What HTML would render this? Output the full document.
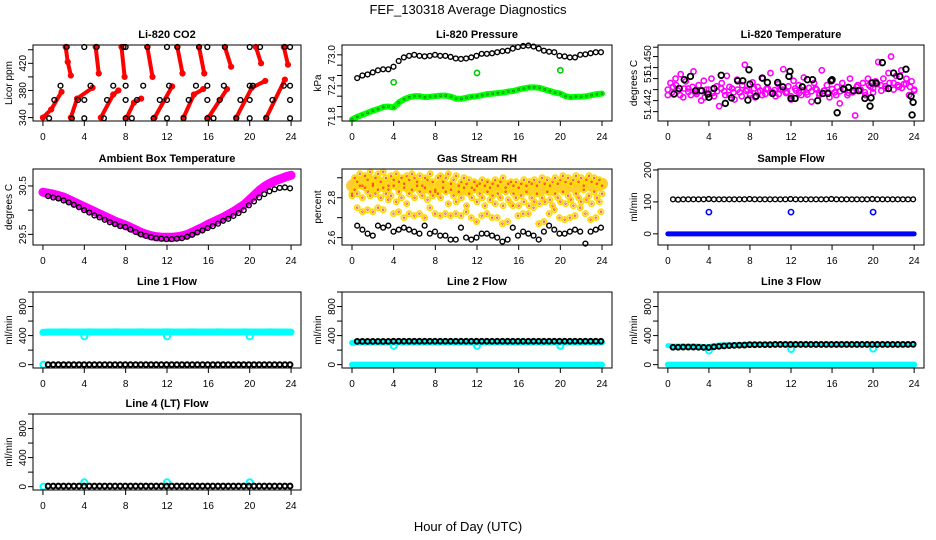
<!DOCTYPE html>
<html><head><meta charset="utf-8"><style>
html,body{margin:0;padding:0;background:#fff;}
svg{display:block;font-family:"Liberation Sans",Arial,sans-serif;}
</style></head><body>
<svg id="chart" width="936" height="540" viewBox="0 0 936 540">
<rect width="936" height="540" fill="#fff"/>
<text x="468" y="14" text-anchor="middle" font-size="13">FEF_130318  Average Diagnostics</text>
<text x="468" y="531" text-anchor="middle" font-size="13">Hour of Day (UTC)</text>
</svg>
<script>
// ---------- data ----------
const xTicks = [0,4,8,12,16,20,24];
const outlierHours = [4,12,20];

// CO2
const co2BlackX = [0.6,2.8,4.0,5.9,8.0,8.6,10.7,12.0,13.6,15.9,16.5,18.7,20.0,21.6,23.9, 1.1,3.4,4.0,6.2,8.0,9.1,11.3,12.0,14.1,15.9,17.1,19.1,20.0,22.2,23.9, 1.7,4.6,6.8,8.0,9.7,12.2,14.8,15.9,17.5,20.0,20.3,23.3,23.9, 2.3,4.0,5.2,7.8,8.0,10.1,12.0,13.0,15.1,15.9,17.6,20.0,21.0,23.4,23.9];
const co2BlackY = [339,339,339,339,339,339,339,339,339,339,339,339,339,339,339, 366,366,366,366,366,366,366,366,366,366,366,366,366,366,366, 387,387,387,387,387,387,387,387,387,387,387,387,387, 444,444,444,444,444,444,444,444,444,444,444,444,444,444,444];
const co2StreakX = [[0.0,0.8,1.8],[2.7,3.3,4.8],[5.6,6.8,7.3],[8.1,8.8,9.5],[10.8,12.5],[13.6,14.6,15.5],[16.0,17.8],[18.7,20.2,21.5],[21.6,23.4],[2.2,2.4,2.7],[5.1,5.4],[7.6,7.9],[10.1,10.6],[13.0,13.5],[15.1,15.6],[17.6,18.2],[20.6,21.1],[23.3,23.7]];
const co2StreakY = [[340,352,378],[340,368,384],[340,374,380],[340,362,368],[340,386],[340,374,382],[340,382],[340,384,394],[340,396],[444,422,402],[444,405],[444,400],[444,400],[444,405],[444,405],[444,415],[444,420],[444,418]];

// Pressure
const presBlack = [72.55,72.6,72.62,72.66,72.7,72.72,72.72,72.77,72.88,72.95,72.98,73.0,72.98,72.97,72.98,73.0,72.98,72.98,72.96,72.93,72.92,72.93,72.95,72.98,73.02,73.02,73.03,73.05,73.07,73.08,73.12,73.15,73.17,73.18,73.16,73.12,73.08,73.06,73.05,72.98,72.97,72.95,72.95,73.0,73.01,73.03,73.05,73.05];
const presGreen = [71.75,71.8,71.84,71.88,71.92,71.95,71.99,72.0,71.98,72.08,72.14,72.18,72.2,72.2,72.18,72.19,72.2,72.21,72.21,72.19,72.15,72.15,72.17,72.19,72.2,72.22,72.24,72.25,72.26,72.27,72.29,72.3,72.33,72.35,72.37,72.37,72.36,72.33,72.3,72.27,72.25,72.2,72.18,72.19,72.19,72.2,72.22,72.24,72.25];
const presOutlier = [72.47,72.65,72.7];

// Li-820 temperature
const tempBlackX = [0.6,1.1,1.6,2.2,2.7,3.3,3.9,4.0,4.5,5.2,5.6,6.2,6.8,7.3,7.8,7.9,8.0,8.6,9.2,9.7,10.2,10.7,11.2,11.8,11.9,12.0,12.4,13.1,13.6,14.1,14.6,15.1,15.6,15.9,16.0,16.5,17.1,17.6,18.1,18.6,19.2,19.7,19.8,19.9,20.3,20.9,21.5,22.0,22.6,23.2,23.7,23.8,23.9];
const tempBlackY = [51.4442,51.4452,51.4468,51.4474,51.4448,51.4448,51.4442,51.4436,51.4452,51.4476,51.4425,51.4435,51.4466,51.4466,51.4431,51.4486,51.4460,51.4438,51.4471,51.4463,51.4443,51.4463,51.4455,51.4474,51.4483,51.4434,51.4434,51.4455,51.4468,51.4468,51.4430,51.4443,51.4443,51.4466,51.4468,51.4408,51.4451,51.4454,51.4448,51.4448,51.4434,51.4420,51.4435,51.4462,51.4462,51.4499,51.4452,51.4480,51.4474,51.4487,51.4438,51.4404,51.4427];
const tempA = [51.4440,51.4462,51.4455,51.4470,51.4448,51.4478,51.4436,51.4465,51.4452,51.4440,51.4483,51.4445,51.4458,51.4430,51.4466,51.4450,51.4442,51.4470,51.4438,51.4456,51.4420,51.4462,51.4447,51.4475,51.4440,51.4452,51.4432,51.4468,51.4445,51.4458,51.4495,51.4450,51.4440,51.4463,51.4436,51.4455,51.4448,51.4470,51.4442,51.4452,51.4480,51.4445,51.4438,51.4460,51.4450,51.4487,51.4444,51.4456,51.4432,51.4466,51.4448,51.4458,51.4440,51.4472,51.4445,51.4453,51.4428,51.4462,51.4450,51.4440,51.4485,51.4448,51.4458,51.4436,51.4466,51.4445,51.4455,51.4425,51.4462,51.4450,51.4440,51.4470,51.4445,51.4403,51.4458,51.4448,51.4462,51.4440,51.4470,51.4455,51.4445,51.4465,51.4500,51.4458,51.4470,51.4452,51.4480,51.4510,51.4462,51.4475,51.4455,51.4485,51.4460,51.4470,51.4440,51.4465,51.4450];
const tempB = [51.4450,51.4445,51.4458,51.4440,51.4452,51.4446,51.4455,51.4442,51.4448,51.4436,51.4450,51.4444,51.4447,51.4452,51.4440,51.4455,51.4445,51.4450,51.4438,51.4448,51.4443,51.4452,51.4446,51.4440,51.4451,51.4445,51.4449,51.4442,51.4450,51.4446,51.4438,51.4452,51.4444,51.4449,51.4441,51.4447,51.4452,51.4443,51.4448,51.4445,51.4451,51.4440,51.4447,51.4450,51.4444,51.4448,51.4455,51.4450,51.4445,51.4458,51.4452,51.4460,51.4448,51.4456,51.4462,51.4450,51.4458,51.4453,51.4460,51.4455,51.4448];
const tempTicks = [51.441,51.443,51.445,51.447,51.449,51.451,51.4527];
const tempLabelVals = [51.4423,51.4472,51.4503];
const tempLabels = ["51.442","51","51.450"];

// Ambient box temperature
const ambMagenta = [30.37,30.35,30.33,30.3,30.27,30.22,30.17,30.12,30.07,30.02,29.97,29.92,29.87,29.82,29.77,29.73,29.69,29.64,29.59,29.54,29.5,29.47,29.45,29.44,29.44,29.44,29.45,29.47,29.5,29.55,29.6,29.65,29.71,29.76,29.81,29.86,29.92,29.98,30.05,30.12,30.22,30.32,30.42,30.5,30.56,30.61,30.65,30.69,30.72];
const ambBlack = [30.29,30.26,30.24,30.2,30.16,30.11,30.06,30.0,29.95,29.89,29.85,29.8,29.75,29.71,29.67,29.65,29.6,29.55,29.5,29.47,29.44,29.42,29.41,29.4,29.4,29.41,29.42,29.45,29.49,29.54,29.58,29.63,29.67,29.72,29.78,29.82,29.88,29.94,30.0,30.1,30.18,30.26,30.33,30.39,30.43,30.46,30.47,30.45];

// Gas stream RH
const rhA = [2.82,2.9,2.88,2.92,2.86,2.91,2.89,2.93,2.87,2.9,2.92,2.88,2.93,2.9,2.86,2.91,2.89,2.92,2.88,2.9,2.87,2.91,2.89,2.92,2.9,2.88,2.91,2.86,2.9,2.89,2.92,2.88,2.83,2.9,2.91,2.88,2.9,2.92,2.87,2.89,2.91,2.86,2.88,2.9,2.87,2.89,2.85,2.88,2.86,2.87,2.89,2.86,2.88,2.85,2.87,2.89,2.86,2.88,2.9,2.85,2.87,2.88,2.86,2.88,2.85,2.87,2.89,2.86,2.88,2.87,2.89,2.86,2.88,2.9,2.87,2.89,2.86,2.88,2.9,2.87,2.89,2.91,2.88,2.9,2.87,2.89,2.91,2.88,2.9,2.86,2.89,2.91,2.88,2.9,2.87,2.89,2.86];
const rhB = [2.81,2.84,2.82,2.86,2.8,2.85,2.83,2.81,2.86,2.82,2.84,2.8,2.85,2.82,2.84,2.81,2.86,2.78,2.83,2.8,2.85,2.77,2.82,2.84,2.8,2.86,2.83,2.81,2.85,2.79,2.83,2.81,2.84,2.82,2.8,2.85,2.83,2.77,2.84,2.81,2.78,2.83,2.8,2.85,2.76,2.82,2.8,2.84,2.78,2.82,2.8,2.76,2.83,2.79,2.81,2.77,2.82,2.8,2.76,2.83,2.79,2.77,2.82,2.8,2.76,2.81,2.78,2.83,2.76,2.8,2.78,2.82,2.77,2.8,2.78,2.83,2.79,2.76,2.82,2.8,2.78,2.83,2.77,2.81,2.79,2.76,2.82,2.8,2.78,2.84,2.79,2.81,2.77,2.83,2.8,2.78,2.82];
const rhMid = [2.86,2.88,2.87,2.89,2.85,2.88,2.86,2.87,2.88,2.86,2.88,2.85,2.87,2.86,2.85,2.86,2.84,2.86,2.85,2.85,2.84,2.85,2.84,2.85,2.86,2.85,2.86,2.84,2.86,2.85,2.86,2.85,2.84,2.85,2.84,2.85,2.84,2.85,2.84,2.85,2.86,2.85,2.86,2.85,2.86,2.87,2.86,2.86,2.87];
const rhYellow = [2.75,2.73,2.74,2.73,2.75,2.74,2.79,2.72,2.73,2.7,2.72,2.71,2.72,2.7,2.75,2.72,2.71,2.72,2.71,2.72,2.71,2.73,2.7,2.68,2.71,2.72,2.7,2.7,2.67,2.68,2.76,2.71,2.72,2.72,2.75,2.67,2.68,2.72,2.74,2.7,2.69,2.7,2.71,2.75,2.72,2.69,2.7,2.73];
const rhBlack = [2.66,2.64,2.62,2.61,2.66,2.65,2.66,2.63,2.64,2.65,2.64,2.63,2.62,2.66,2.62,2.63,2.61,2.61,2.59,2.59,2.65,2.6,2.59,2.6,2.62,2.62,2.61,2.6,2.58,2.59,2.65,2.61,2.63,2.62,2.61,2.59,2.63,2.66,2.64,2.62,2.62,2.63,2.64,2.63,2.57,2.63,2.64,2.65];

// Sample flow
const sampleBlack = [108,107,108,108,108,108,108,109,108,108,108,108,108,108,108,109,108,108,108,108,108,108,108,109,108,108,108,108,108,108,108,109,108,108,108,108,108,108,108,109,108,108,108,108,108,108,108,108];
const sampleBlue = [0,0,0,0,0,0,0,0,0,0,0,0,0,0,0,0,0,0,0,0,0,0,0,0,0,0,0,0,0,0,0,0,0,0,0,0,0,0,0,0,0,0,0,0,0,0,0,0,0];
const sampleOutlier = [68,68,68];

// Line flows
const line1Black = [0,0,0,0,0,0,0,0,0,0,0,0,0,0,0,0,0,0,0,0,0,0,0,0,0,0,0,0,0,0,0,0,0,0,0,0,0,0,0,0,0,0,0,0,0,0,0,0];
const line1Cyan = [445,450,450,450,452,450,450,450,450,452,450,450,450,450,452,450,450,450,450,452,450,450,450,450,452,450,450,450,450,452,450,450,450,450,452,450,450,450,450,452,450,450,450,450,452,450,450,450,448];
const line1Outlier = [390,390,390];
const line2Black = [320,320,320,320,320,320,320,322,322,322,322,322,322,322,322,322,322,322,322,322,322,322,322,322,322,322,322,322,322,322,322,322,322,322,322,322,322,322,322,322,322,322,322,322,322,322,322,322];
const line2Cyan = [300,305,305,305,305,305,305,305,305,305,305,305,305,305,305,305,305,305,305,305,305,305,305,305,305,305,305,305,305,305,305,305,305,305,305,305,305,305,305,305,305,305,305,305,305,305,305,305,305];
const line2CyanLow = [0,0,0,0,0,0,0,0,0,0,0,0,0,0,0,0,0,0,0,0,0,0,0,0,0,0,0,0,0,0,0,0,0,0,0,0,0,0,0,0,0,0,0,0,0,0,0,0,0];
const line2Outlier = [260,260,260];
const line3Black = [240,240,242,242,242,240,238,236,245,252,258,262,265,268,270,275,275,276,276,276,278,278,278,278,278,278,278,278,278,278,278,278,278,278,278,278,278,278,278,278,278,278,278,278,278,278,278,280];
const line3Cyan = [262,255,255,255,255,255,255,250,248,262,270,272,272,272,272,275,280,280,280,280,280,280,280,280,278,278,278,278,278,278,278,278,278,278,278,278,278,278,278,278,278,278,278,278,278,278,278,278,280];
const line3CyanLow = [0,0,0,0,0,0,0,0,0,0,0,0,0,0,0,0,0,0,0,0,0,0,0,0,0,0,0,0,0,0,0,0,0,0,0,0,0,0,0,0,0,0,0,0,0,0,0,0,0];
const line3Outlier = [195,215,220];
const line4Black = [8,8,8,8,8,8,8,8,8,8,8,8,8,8,8,8,8,8,8,8,8,8,8,8,8,8,8,8,8,8,8,8,8,8,8,8,8,8,8,8,8,8,8,8,8,8,8,8];
const line4Outlier = [60,60,60];
const flowTicks = [0,200,400,600,800,1000];
const flowLabels = [0,400,800];

// ---------- drawing ----------
const svg = document.getElementById('chart');
const NS = 'http://www.w3.org/2000/svg';
function el(tag, attrs, parent) {
  const e = document.createElementNS(NS, tag);
  for (const k in attrs) e.setAttribute(k, attrs[k]);
  (parent || svg).appendChild(e);
  return e;
}
const cols = [{l:33,r:301},{l:342,r:612},{l:658,r:924}];
const rowTops = [45,169,292,414];
const BOXH = 76;

function makePanel(col, row, name, title, ylab, ylim) {
  const c = cols[col], top = rowTops[row], bot = top + BOXH;
  const w = c.r - c.l;
  const g = el('g', {});
  
  
  const p = {
    g, top, bot, l: c.l, r: c.r,
    x: v => c.l + w * (0.04 + v / 24) / 1.08,
    y: v => bot - (v - ylim[0]) / (ylim[1] - ylim[0]) * BOXH
  };
  const t = el('text', {x: (c.l + c.r) / 2, y: top - 7, 'text-anchor': 'middle', 'font-size': 11, 'font-weight': 'bold'}, g);
  t.textContent = title;
  
  
  const yl = el('text', {transform: `translate(${c.l - 21},${(top + bot) / 2}) rotate(-90)`, 'text-anchor': 'middle', 'font-size': 10}, g);
  yl.textContent = ylab;
  
  
  const xa = el('g', {}, g);
  
  
  xTicks.forEach(v => {
    el('line', {x1: p.x(v), x2: p.x(v), y1: bot, y2: bot + 5, stroke: '#000'}, xa);
    const tx = el('text', {x: p.x(v), y: bot + 19, 'text-anchor': 'middle', 'font-size': 10}, xa);
    tx.textContent = v;
  });
  p.plot = el('g', {}, g);
  
  
  return p;
}
function yAxis(p, name, ticks, labelVals, labels) {
  const ya = el('g', {}, p.g);
  
  
  el('line', {x1: p.l, x2: p.l, y1: p.y(ticks[0]), y2: p.y(ticks[ticks.length - 1]), stroke: '#000'}, ya);
  ticks.forEach(v => el('line', {x1: p.l - 5, x2: p.l, y1: p.y(v), y2: p.y(v), stroke: '#000'}, ya));
  labelVals.forEach((v, i) => {
    const t = el('text', {transform: `translate(${p.l - 7},${p.y(v)}) rotate(-90)`, 'text-anchor': 'middle', 'font-size': 10}, ya);
    t.textContent = labels[i];
  });
}
function box(p) {
  el('rect', {x: p.l, y: p.top, width: p.r - p.l, height: BOXH, fill: 'none', stroke: '#000'}, p.g);
}
function pts(p, xs, ys, color, name, r, sw) {
  const g = el('g', {fill: 'none', stroke: color, 'stroke-width': sw || 1.4}, p.plot);
  
  
  ys.forEach((v, i) => {
    const c = el('circle', {cx: p.x(xs[i]), cy: p.y(v), r: r || 2.4}, g);
    
    
  });
}
function band(p, xs, ys, color, name, width) {
  const l = el('polyline', {points: ys.map((v, i) => p.x(xs[i]) + ',' + p.y(v)).join(' '), fill: 'none', stroke: color, 'stroke-width': width, 'stroke-linecap': 'round', 'stroke-linejoin': 'round'}, p.plot);
  
  
}
const denseX = arr => arr.map((_, i) => i * 24 / (arr.length - 1));
const halfX = arr => arr.map((_, i) => 0.5 + i * (23.9 - 0.5) / (arr.length - 1));

// Li-820 CO2
let p = makePanel(0, 0, 'co2', 'Li-820 CO2', 'Licor ppm', [335, 447]);
co2StreakY.forEach((ys, k) => {
  band(p, co2StreakX[k], ys, '#f00', 'co2-red-streak', 4);
  pts(p, co2StreakX[k], ys, '#f00', 'co2-red-points', 2.4, 1.4);
});
pts(p, co2BlackX, co2BlackY, '#000', 'co2-black-points');
yAxis(p, 'co2', [340,360,380,400,420,440], [340,380,420], ['340','380','420']);
box(p);

// Pressure
p = makePanel(1, 0, 'pressure', 'Li-820 Pressure', 'kPa', [71.72, 73.19]);
band(p, denseX(presGreen), presGreen, '#0f0', 'pressure-green-band', 6);
pts(p, denseX(presGreen), presGreen, '#1a8a1a', 'pressure-green-points', 1, 0.8);
pts(p, outlierHours, presOutlier, '#0c0', 'pressure-green-outliers', 2.6, 1.6);
pts(p, halfX(presBlack), presBlack, '#000', 'pressure-black-points');
yAxis(p, 'pressure', [71.8,72.0,72.2,72.4,72.6,72.8,73.0], [71.8,72.4,73.0], ['71.8','72.4','73.0']);
box(p);

// Li-820 temperature
p = makePanel(2, 0, 'li820-temp', 'Li-820 Temperature', 'degrees C', [51.4393, 51.4531]);
pts(p, denseX(tempA), tempA, '#f0f', 'temp-magenta-points', 2.6, 1.6);
pts(p, denseX(tempB), tempB, '#f0f', 'temp-magenta-points-2', 2.6, 1.6);
pts(p, tempBlackX, tempBlackY, '#000', 'temp-black-points', 2.8, 1.8);
yAxis(p, 'li820-temp', tempTicks, tempLabelVals, tempLabels);
box(p);

// Ambient
p = makePanel(0, 1, 'ambient', 'Ambient Box Temperature', 'degrees C', [29.28, 30.85]);
band(p, denseX(ambMagenta), ambMagenta, '#f0f', 'ambient-magenta-band', 9);
pts(p, halfX(ambBlack), ambBlack, '#000', 'ambient-black-points');
yAxis(p, 'ambient', [29.5,30.0,30.5], [29.5,30.5], ['29.5','30.5']);
box(p);

// RH
p = makePanel(1, 1, 'rh', 'Gas Stream RH', 'percent', [2.563, 2.944]);
band(p, denseX(rhMid), rhMid, '#fc3', 'rh-yellow-fill', 12);
pts(p, denseX(rhA), rhA, '#fd0', 'rh-yellow-upper', 2.6, 1.8);
pts(p, denseX(rhB), rhB, '#fd0', 'rh-yellow-lower', 2.6, 1.8);
pts(p, denseX(rhA), rhA, '#f33', 'rh-red-upper', 0.8, 0.8);
pts(p, denseX(rhB), rhB, '#f33', 'rh-red-lower', 0.8, 0.8);
pts(p, halfX(rhYellow), rhYellow, '#fd0', 'rh-yellow-points', 2.6, 1.8);
pts(p, halfX(rhYellow), rhYellow, '#f33', 'rh-yellow-centers', 0.8, 0.8);
pts(p, halfX(rhBlack), rhBlack, '#000', 'rh-black-points');
yAxis(p, 'rh', [2.6,2.7,2.8,2.9], [2.6,2.8], ['2.6','2.8']);
box(p);

// Sample flow
p = makePanel(2, 1, 'sample-flow', 'Sample Flow', 'ml/min', [-35, 203]);
band(p, denseX(sampleBlue), sampleBlue, '#00f', 'sample-blue-band', 5);
pts(p, outlierHours, sampleOutlier, '#00f', 'sample-blue-outliers', 2.6, 1.6);
pts(p, halfX(sampleBlack), sampleBlack, '#000', 'sample-black-points');
yAxis(p, 'sample-flow', [0,100,200], [0,100,200], ['0','100','200']);
box(p);

// Line 1
p = makePanel(0, 2, 'line1', 'Line 1 Flow', 'ml/min', [-46, 1000]);
band(p, denseX(line1Cyan), line1Cyan, '#0ff', 'line1-cyan-band', 7);
pts(p, outlierHours, line1Outlier, '#0ff', 'line1-cyan-outliers', 3, 2);
pts(p, [0.05], [0], '#0ff', 'line1-cyan-start', 3, 2);
pts(p, halfX(line1Black), line1Black, '#000', 'line1-black-points', 2.4, 2);
yAxis(p, 'line1', flowTicks, flowLabels, ['0','400','800']);
box(p);

// Line 2
p = makePanel(1, 2, 'line2', 'Line 2 Flow', 'ml/min', [-46, 1000]);
band(p, denseX(line2CyanLow), line2CyanLow, '#0ff', 'line2-cyan-low-band', 6);
band(p, denseX(line2Cyan), line2Cyan, '#0ff', 'line2-cyan-band', 6);
pts(p, outlierHours, line2Outlier, '#0ff', 'line2-cyan-outliers', 3, 2);
pts(p, halfX(line2Black), line2Black, '#000', 'line2-black-points', 2.4, 2);
yAxis(p, 'line2', flowTicks, flowLabels, ['0','400','800']);
box(p);

// Line 3
p = makePanel(2, 2, 'line3', 'Line 3 Flow', 'ml/min', [-46, 1000]);
band(p, denseX(line3CyanLow), line3CyanLow, '#0ff', 'line3-cyan-low-band', 6);
band(p, denseX(line3Cyan), line3Cyan, '#0ff', 'line3-cyan-band', 5);
pts(p, outlierHours, line3Outlier, '#0ff', 'line3-cyan-outliers', 3, 2);
pts(p, halfX(line3Black), line3Black, '#000', 'line3-black-points', 2.4, 2);
yAxis(p, 'line3', flowTicks, flowLabels, ['0','400','800']);
box(p);

// Line 4
p = makePanel(0, 3, 'line4', 'Line 4 (LT) Flow', 'ml/min', [-46, 1000]);
pts(p, [0.05], [0], '#0ff', 'line4-cyan-start', 3, 2);
pts(p, outlierHours, line4Outlier, '#0ff', 'line4-cyan-outliers', 3, 2);
pts(p, halfX(line4Black), line4Black, '#000', 'line4-black-points', 2.4, 2);
yAxis(p, 'line4', flowTicks, flowLabels, ['0','400','800']);
box(p);
</script>
</body></html>
